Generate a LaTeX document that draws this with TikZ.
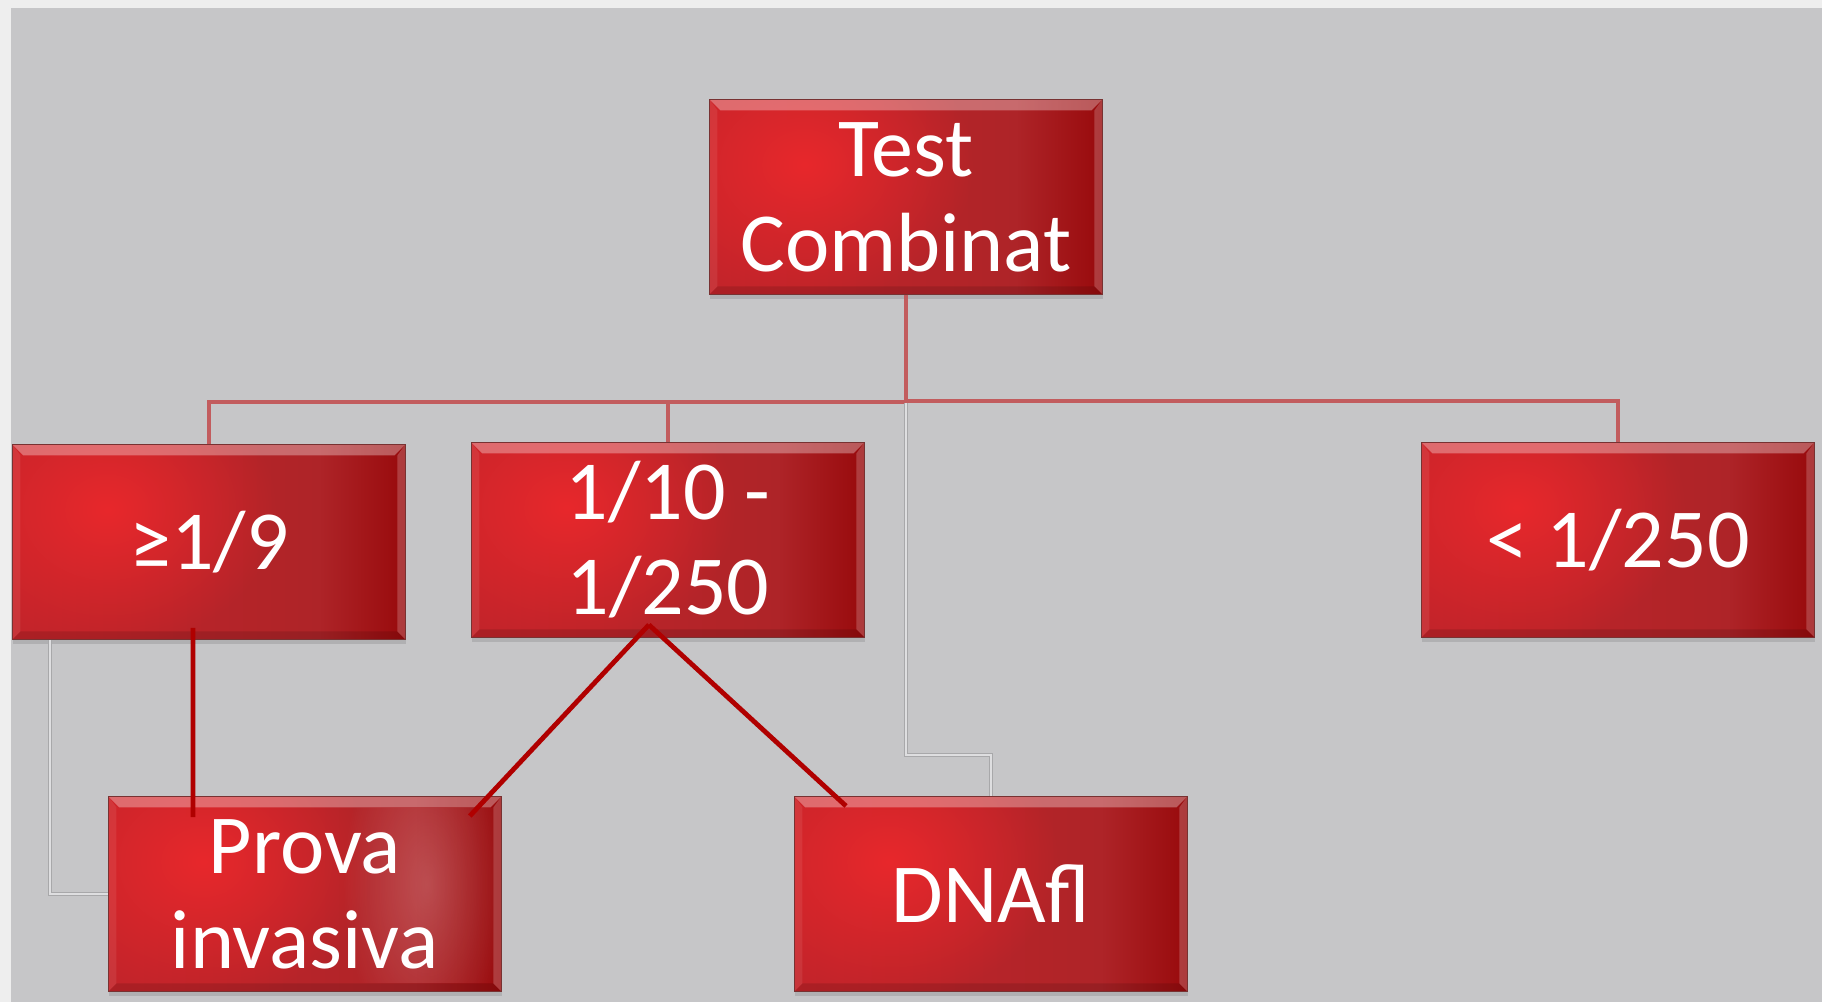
\documentclass[tikz,border=0pt]{standalone}
\usepackage{fontspec}
\setmainfont{Carlito}
\usetikzlibrary{calc,fadings,shadows}
\tikzfading[name=myglow, inner color=transparent!0, outer color=transparent!100]
\definecolor{panel}{RGB}{198,198,200}
\definecolor{outerbg}{RGB}{238,238,238}
\definecolor{boxL}{RGB}{196,36,42}
\definecolor{boxM}{RGB}{174,36,40}
\definecolor{boxR}{RGB}{152,10,12}
\definecolor{boxHL}{RGB}{232,40,44}
\definecolor{busred}{RGB}{194,92,94}
\definecolor{dred}{RGB}{176,0,0}
\definecolor{gline}{RGB}{168,168,170}
\definecolor{glinein}{RGB}{222,222,224}
\pgfdeclarehorizontalshading{boxshade}{100bp}{color(0bp)=(boxL); color(25bp)=(boxL); color(64bp)=(boxM); color(75bp)=(boxR); color(100bp)=(boxR)}
\tikzset{
  box/.style={rectangle, draw={rgb,255:red,120;green,50;blue,50}, line width=0.8pt,
    minimum width=393pt, minimum height=195pt, inner sep=0pt,
    text=white, align=center, font=\fontsize{84}{95}\selectfont,
    drop shadow={opacity=0.3, shadow xshift=1pt, shadow yshift=-5pt},
    path picture={
      \shade[shading=boxshade] (path picture bounding box.south west) rectangle (path picture bounding box.north east);
      \fill[boxHL, path fading=myglow] ($(path picture bounding box.north west)+(95,65)$) ellipse [x radius=170pt, y radius=140pt];
      \fill[white, opacity=0.32] (path picture bounding box.north west) -- (path picture bounding box.north east) -- ++(-11,11) -- ($(path picture bounding box.north west)+(11,11)$) -- cycle;
      \fill[white, opacity=0.2] (path picture bounding box.north east) -- (path picture bounding box.south east) -- ++(-8,-8) -- ($(path picture bounding box.north east)+(-8,11)$) -- cycle;
      \fill[white, opacity=0.08] (path picture bounding box.north west) -- (path picture bounding box.south west) -- ++(8,-8) -- ($(path picture bounding box.north west)+(8,11)$) -- cycle;
      \fill[black, opacity=0.12] (path picture bounding box.south west) -- (path picture bounding box.south east) -- ++(-8,-8) -- ($(path picture bounding box.south west)+(8,-8)$) -- cycle;
    }},
  busline/.style={draw=busred, line width=4pt},
  greyline/.style={draw=gline, line width=0.8pt, double=glinein, double distance=2.2pt},
  redline/.style={draw=dred, line width=4.8pt}
}
\begin{document}
\begin{tikzpicture}[x=1pt, y=-1pt]
\useasboundingbox (0,0) rectangle (1822,1002);
\fill[outerbg] (0,0) rectangle (1822,1002);
\fill[panel] (11,8) rectangle (1822,1002);

\node[box, anchor=north west] (top) at (709,99) {Test\\Combinat};
\node[box, anchor=north west] (a) at (12,444) {≥1/9};
\node[box, anchor=north west] (b) at (471,442) {1/10 -\\1/250};
\node[box, anchor=north west] (c) at (1421,442) {< 1/250};
\node[box, anchor=north west] (p) at (108,796) {};
\node[box, anchor=north west] (d) at (794,796) {DNAfl};

% glare on Prova box
\begin{scope}
\clip ($(p.north west)+(1,12)$) rectangle ($(p.south east)+(-9,-9)$);
\fill[white, opacity=0.2, path fading=myglow] ($(p.east)+(-75,-10)$) ellipse [x radius=85pt, y radius=170pt];
\end{scope}
\node[text=white, font=\fontsize{84}{95}\selectfont, align=center, inner sep=0pt] (ptext) at (p.center) {Prova\\invasiva};

% tree bus
\draw[busline] (top.south) -- ++(0,107) -| (a.north);
\draw[busline] (top.south) -- ++(0,107) -| (b.north);
\draw[busline] (top.south) -- ++(0,106) -| (c.north);

% grey connectors
\draw[greyline] ($(top.south)+(0,108)$) -- ++(0,352) -| (d.north);
\draw[greyline] ($(a.south west)+(38,0)$) |- (p.west);

% dark red lines
\draw[redline] ($(a.south)+(-16,-12)$) -- ($(p.north west)+(85,21)$);
\draw[redline] ($(b.south)+(-19,-13)$) -- ($(p.north east)+(-32,20)$);
\draw[redline] ($(b.south)+(-19,-13)$) -- ($(d.north west)+(52,10)$);
\end{tikzpicture}
\end{document}
